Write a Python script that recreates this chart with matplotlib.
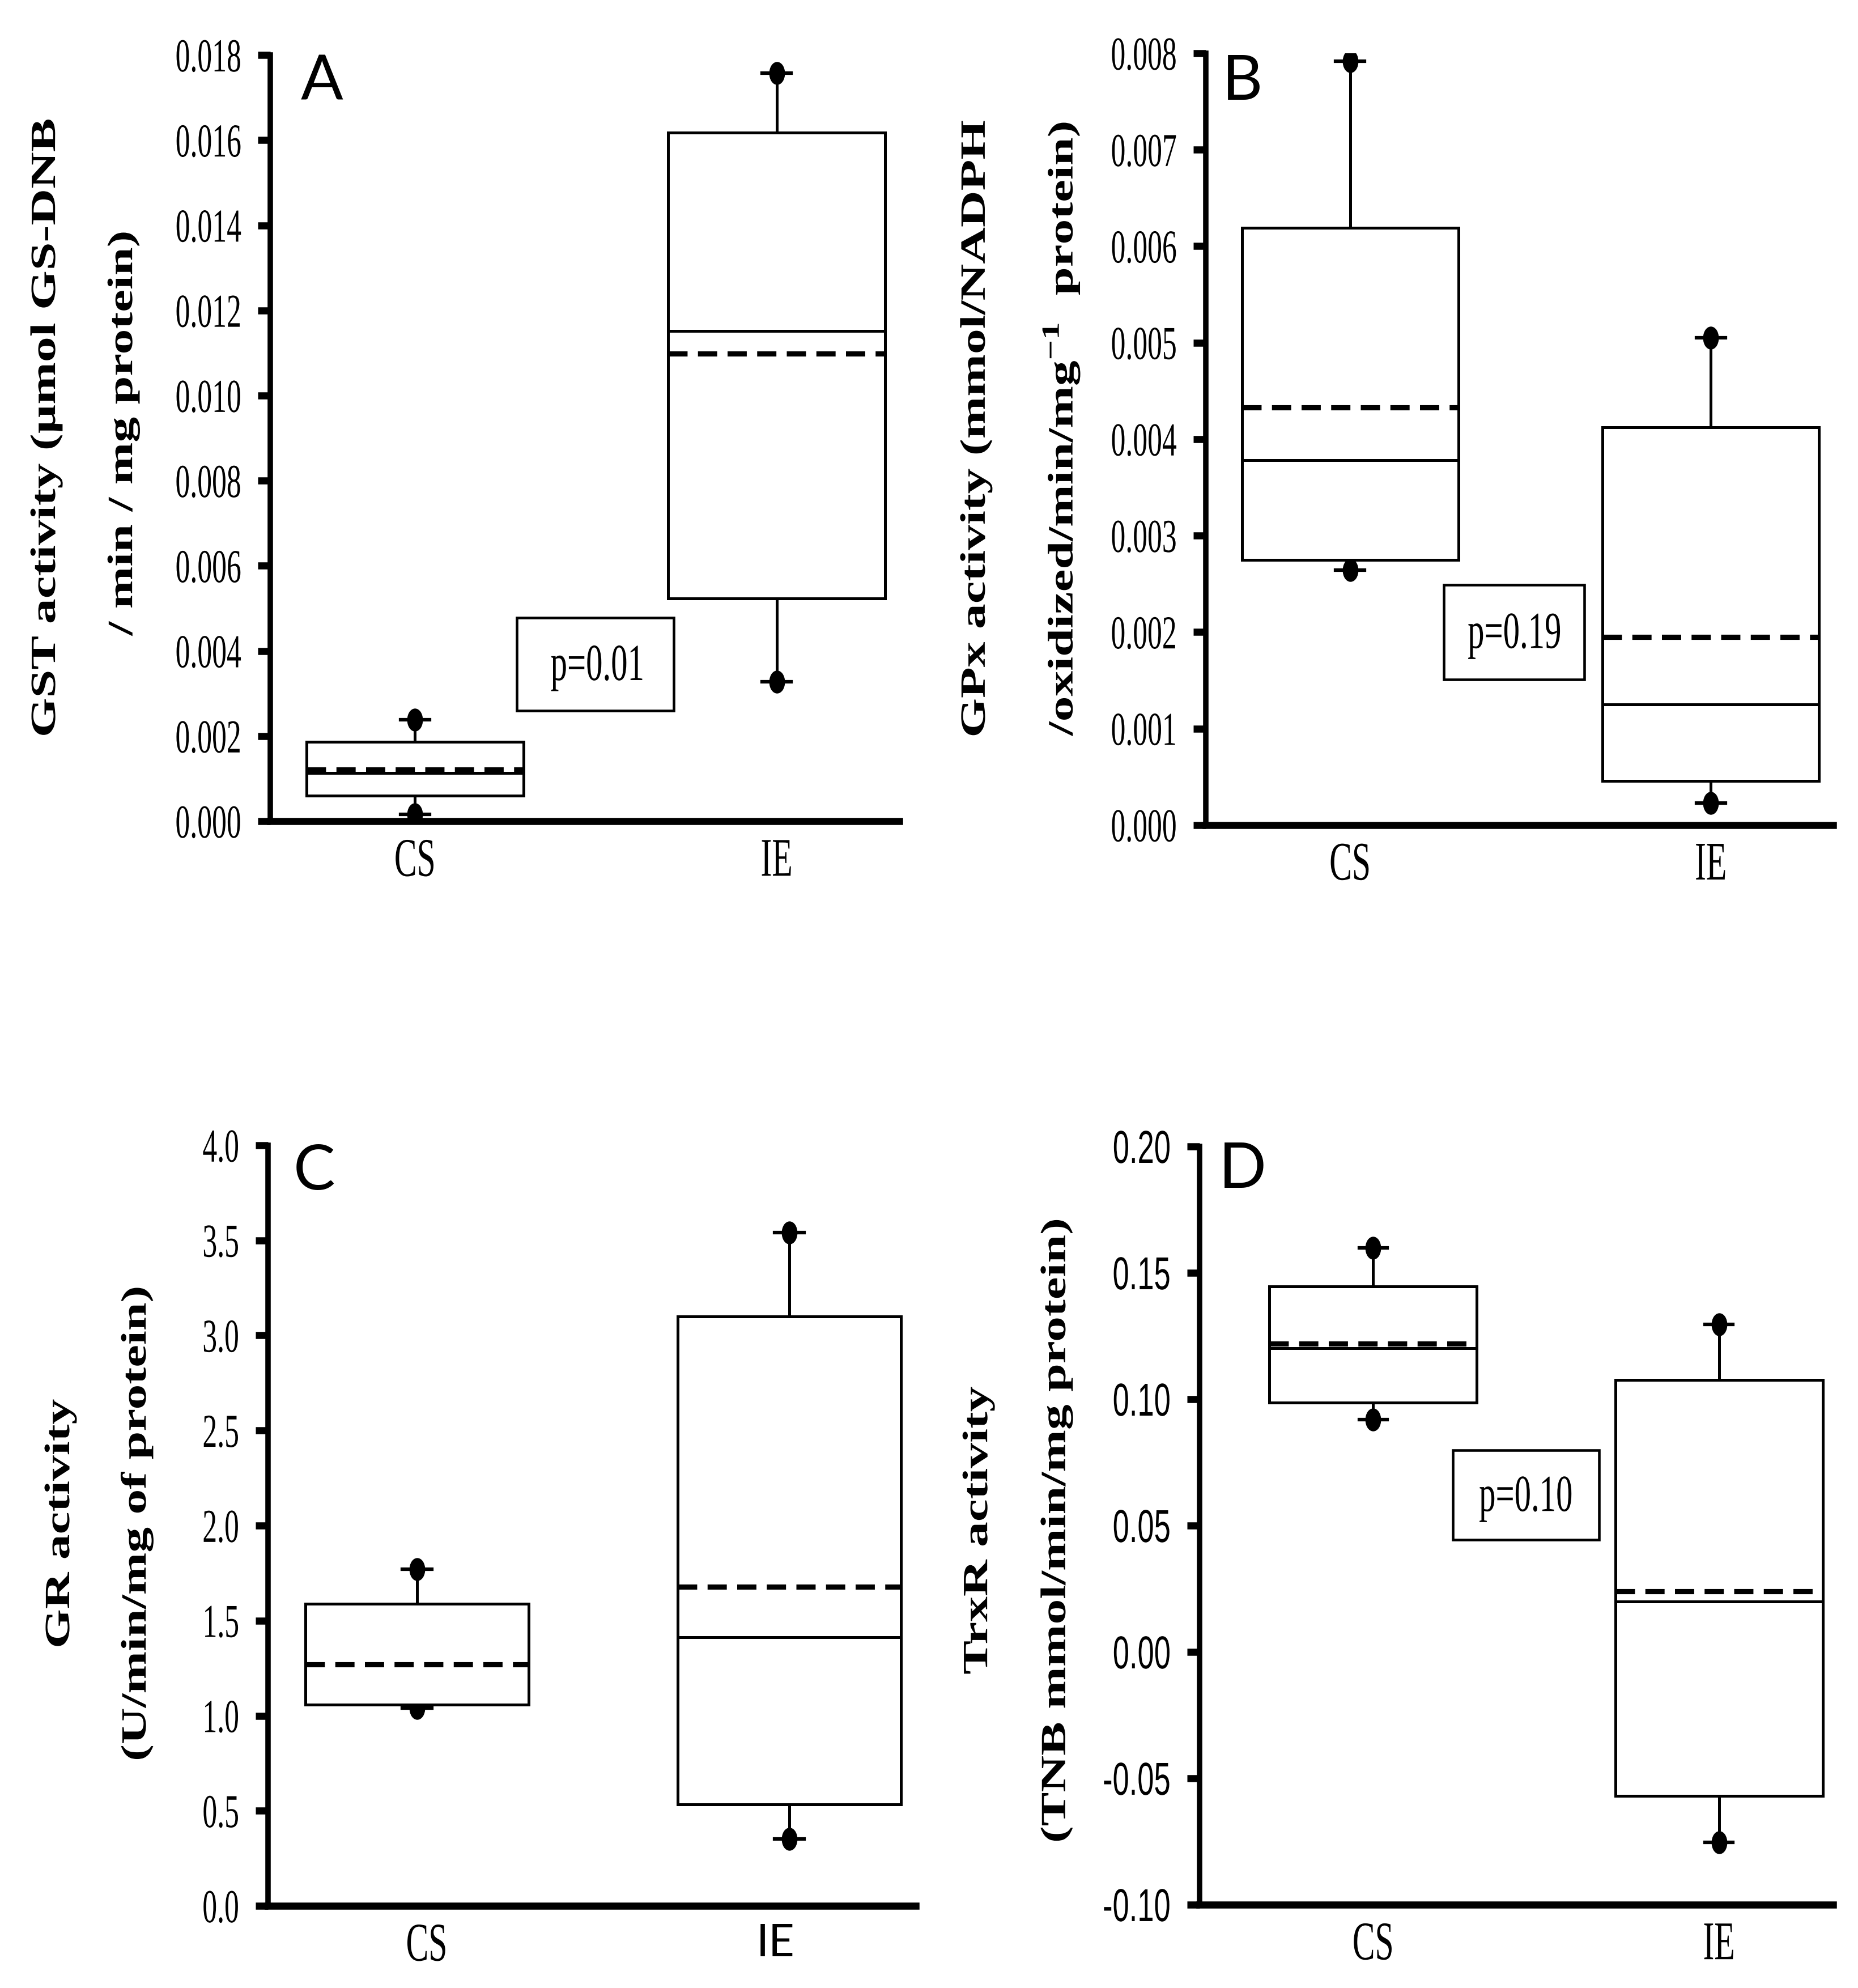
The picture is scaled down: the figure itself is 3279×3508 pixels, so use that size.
import matplotlib
matplotlib.use('Agg')
import matplotlib.pyplot as plt
from matplotlib.path import Path
from matplotlib.patches import Rectangle
from matplotlib.patheffects import AbstractPathEffect
from matplotlib.transforms import Affine2D, blended_transform_factory

plt.rcParams['mathtext.fontset'] = 'custom'
plt.rcParams['mathtext.rm'] = 'Liberation Serif'
plt.rcParams['mathtext.bf'] = 'Liberation Serif:bold'

groups = ['CS', 'IE']

# A - GST
gst_q1 = [0.00060, 0.00524]
gst_med = [0.00113, 0.01152]
gst_q3 = [0.00187, 0.01618]
gst_mean = [0.00121, 0.01098]
gst_lo = [0.00016, 0.00328]
gst_hi = [0.00239, 0.01757]
gst_ticks = [0.000, 0.002, 0.004, 0.006, 0.008, 0.010, 0.012, 0.014, 0.016, 0.018]
gst_ticklabels = ['0.000', '0.002', '0.004', '0.006', '0.008', '0.010', '0.012', '0.014', '0.016', '0.018']

# B - GPx
gpx_q1 = [0.00275, 0.00046]
gpx_med = [0.00378, 0.00125]
gpx_q3 = [0.00619, 0.00412]
gpx_mean = [0.00433, 0.00195]
gpx_lo = [0.00264, 0.00023]
gpx_hi = [0.00792, 0.00505]
gpx_ticks = [0.000, 0.001, 0.002, 0.003, 0.004, 0.005, 0.006, 0.007, 0.008]
gpx_ticklabels = ['0.000', '0.001', '0.002', '0.003', '0.004', '0.005', '0.006', '0.007', '0.008']

# C - GR
gr_q1 = [1.059, 0.533]
gr_med = [1.059, 1.414]
gr_q3 = [1.588, 3.100]
gr_mean = [1.270, 1.677]
gr_lo = [1.040, 0.352]
gr_hi = [1.772, 3.541]
gr_ticks = [0.0, 0.5, 1.0, 1.5, 2.0, 2.5, 3.0, 3.5, 4.0]
gr_ticklabels = ['0.0', '0.5', '1.0', '1.5', '2.0', '2.5', '3.0', '3.5', '4.0']

# D - TrxR
trx_q1 = [0.0986, -0.0569]
trx_med = [0.1201, 0.0200]
trx_q3 = [0.1446, 0.1077]
trx_mean = [0.1219, 0.0239]
trx_lo = [0.0919, -0.0753]
trx_hi = [0.1599, 0.1295]
trx_ticks = [-0.10, -0.05, 0.00, 0.05, 0.10, 0.15, 0.20]
trx_ticklabels = ['-0.10', '-0.05', '0.00', '0.05', '0.10', '0.15', '0.20']

p_texts = ['p=0.01', 'p=0.19', None, 'p=0.10']


class Stretch(AbstractPathEffect):
    # the original figure has tall, narrow lettering: stretch glyphs vertically
    def __init__(self, sx=1.0, sy=1.0, ax_=0.5, ay=0.5):
        super().__init__()
        self.sx = sx
        self.sy = sy
        self.ax_ = ax_
        self.ay = ay

    def draw_path(self, renderer, gc, tpath, affine, rgbFace=None):
        ext = tpath.get_extents(affine)
        x0 = ext.x0 + self.ax_ * ext.width
        y0 = ext.y0 + self.ay * ext.height
        st = Affine2D().translate(-x0, -y0).scale(self.sx, self.sy).translate(x0, y0)
        renderer.draw_path(gc, tpath, affine + st, rgbFace)


circ = Path.unit_circle()
dot = Path(circ.vertices * [0.65, 1.0], circ.codes)

fig = plt.figure(figsize=(3279 / 300, 3508 / 300), dpi=300)

rects = [[0.1455, 0.5869, 0.3385, 0.3854],
         [0.649, 0.585, 0.3376, 0.3882],
         [0.1443, 0.0413, 0.3485, 0.3826],
         [0.6456, 0.0419, 0.341, 0.3814]]
xlims = [(0.60, 2.339), (0.60, 2.339), (0.60, 2.339), (0.498, 2.33)]
label_pos = [[1, 2], [1, 2], [1.026, 1.963], [1, 2]]
letters = ['A', 'B', 'C', 'D']
letter_pos = [(0.082, 0.941), (0.058, 0.940), (0.071, 0.9416), (0.068, 0.9454)]
pboxes = [(0.392, 0.641, 0.00260, 0.00478), (0.379, 0.603, 0.00151, 0.00249), None,
          (0.400, 0.631, 0.0443, 0.0798)]
ptext_x = [0.52, 0.492, None, 0.515]

data = [(gst_q1, gst_med, gst_q3, gst_mean, gst_lo, gst_hi, gst_ticks, gst_ticklabels),
        (gpx_q1, gpx_med, gpx_q3, gpx_mean, gpx_lo, gpx_hi, gpx_ticks, gpx_ticklabels),
        (gr_q1, gr_med, gr_q3, gr_mean, gr_lo, gr_hi, gr_ticks, gr_ticklabels),
        (trx_q1, trx_med, trx_q3, trx_mean, trx_lo, trx_hi, trx_ticks, trx_ticklabels)]

pos = [1, 2]

for i in range(4):
    q1, med, q3, mean, lo, hi, ticks, ticklabels = data[i]
    ax = fig.add_axes(rects[i])
    stats = []
    for j in range(2):
        stats.append(dict(q1=q1[j], med=med[j], q3=q3[j], mean=mean[j],
                          whislo=lo[j], whishi=hi[j], fliers=[]))
    ax.bxp(stats, positions=pos, widths=0.6, showmeans=True, meanline=True,
           patch_artist=True, capwidths=0.08,
           boxprops=dict(facecolor='white', edgecolor='black', linewidth=1.2),
           medianprops=dict(color='black', linewidth=1.2),
           whiskerprops=dict(color='black', linewidth=1.2),
           capprops=dict(color='black', linewidth=1.5),
           meanprops=dict(color='black', linewidth=2.2, linestyle=(0, (3.7, 2))),
           zorder=2)
    ax.plot(pos, lo, linestyle='none', marker=dot, markersize=8.7, color='black', zorder=1.5)
    ax.plot(pos, hi, linestyle='none', marker=dot, markersize=8.7, color='black', zorder=1.5)

    ax.set_xlim(xlims[i])
    ax.set_ylim(ticks[0], ticks[-1])
    for s in ['top', 'right']:
        ax.spines[s].set_visible(False)
    ax.spines['left'].set_linewidth(2.3)
    ax.spines['bottom'].set_linewidth(3)
    ax.tick_params(axis='y', direction='out', length=5.3, width=3, pad=7)
    ax.tick_params(axis='x', length=0, pad=7.5)

    if i == 3:
        ax.set_yticks(ticks, ticklabels, fontsize=12.6, family='Liberation Sans')
        sy = 1.55
    else:
        ax.set_yticks(ticks, ticklabels, fontsize=12.4, family='Liberation Serif')
        sy = 1.613
    for t in ax.get_yticklabels():
        t.set_path_effects([Stretch(1.0, sy, 1.0, 0.5)])

    ax.set_xticks(label_pos[i], groups, fontsize=14.3, family='Liberation Serif')
    xlabs = ax.get_xticklabels()
    for t in xlabs:
        t.set_path_effects([Stretch(1.0, 1.613, 0.5, 1.0)])
    if i == 2:
        # this IE label is in a sans font
        xlabs[1].set_family('Lato')
        xlabs[1].set_fontsize(19)
        xlabs[1].set_path_effects([])

    ax.text(letter_pos[i][0], letter_pos[i][1], letters[i], transform=ax.transAxes,
            ha='center', va='baseline', fontsize=26.5, family='Lato')

    if pboxes[i] is not None:
        x0, x1, y0, y1 = pboxes[i]
        tr = blended_transform_factory(ax.transAxes, ax.transData)
        ax.add_patch(Rectangle((x0, y0), x1 - x0, y1 - y0, transform=tr, fill=False,
                               edgecolor='black', linewidth=1.1, zorder=3))
        ax.text(ptext_x[i], (y0 + y1) / 2, p_texts[i], transform=tr, ha='center',
                va='center_baseline', fontsize=14.1, family='Liberation Serif', zorder=3,
                path_effects=[Stretch(1.0, 1.5625, 0.5, 0.5)])

# y axis titles, two lines each (x is the baseline position)
ylab_lines = [('GST activity (µmol GS-DNB', 0.0296, 0.785),
              ('/ min / mg protein)', 0.0711, 0.782),
              ('GPx activity (mmol/NADPH', 0.530, 0.7845),
              ('/oxidized/min/mg$^{\\mathbf{-1}}$  protein)', 0.5773, 0.7845),
              ('GR activity', 0.0372, 0.2337),
              ('(U/min/mg of protein)', 0.0784, 0.2337),
              ('TrxR activity', 0.5313, 0.2302),
              ('(TNB mmol/min/mg protein)', 0.5733, 0.2302)]
for s, x, y in ylab_lines:
    fig.text(x, y, s, rotation=90, rotation_mode='anchor', ha='center', va='baseline',
             fontsize=15.05, fontweight='bold', family='Liberation Serif',
             path_effects=[Stretch(1.0, 1.4286, 0.5, 0.5)])

fig.savefig('out.png', dpi=300)
